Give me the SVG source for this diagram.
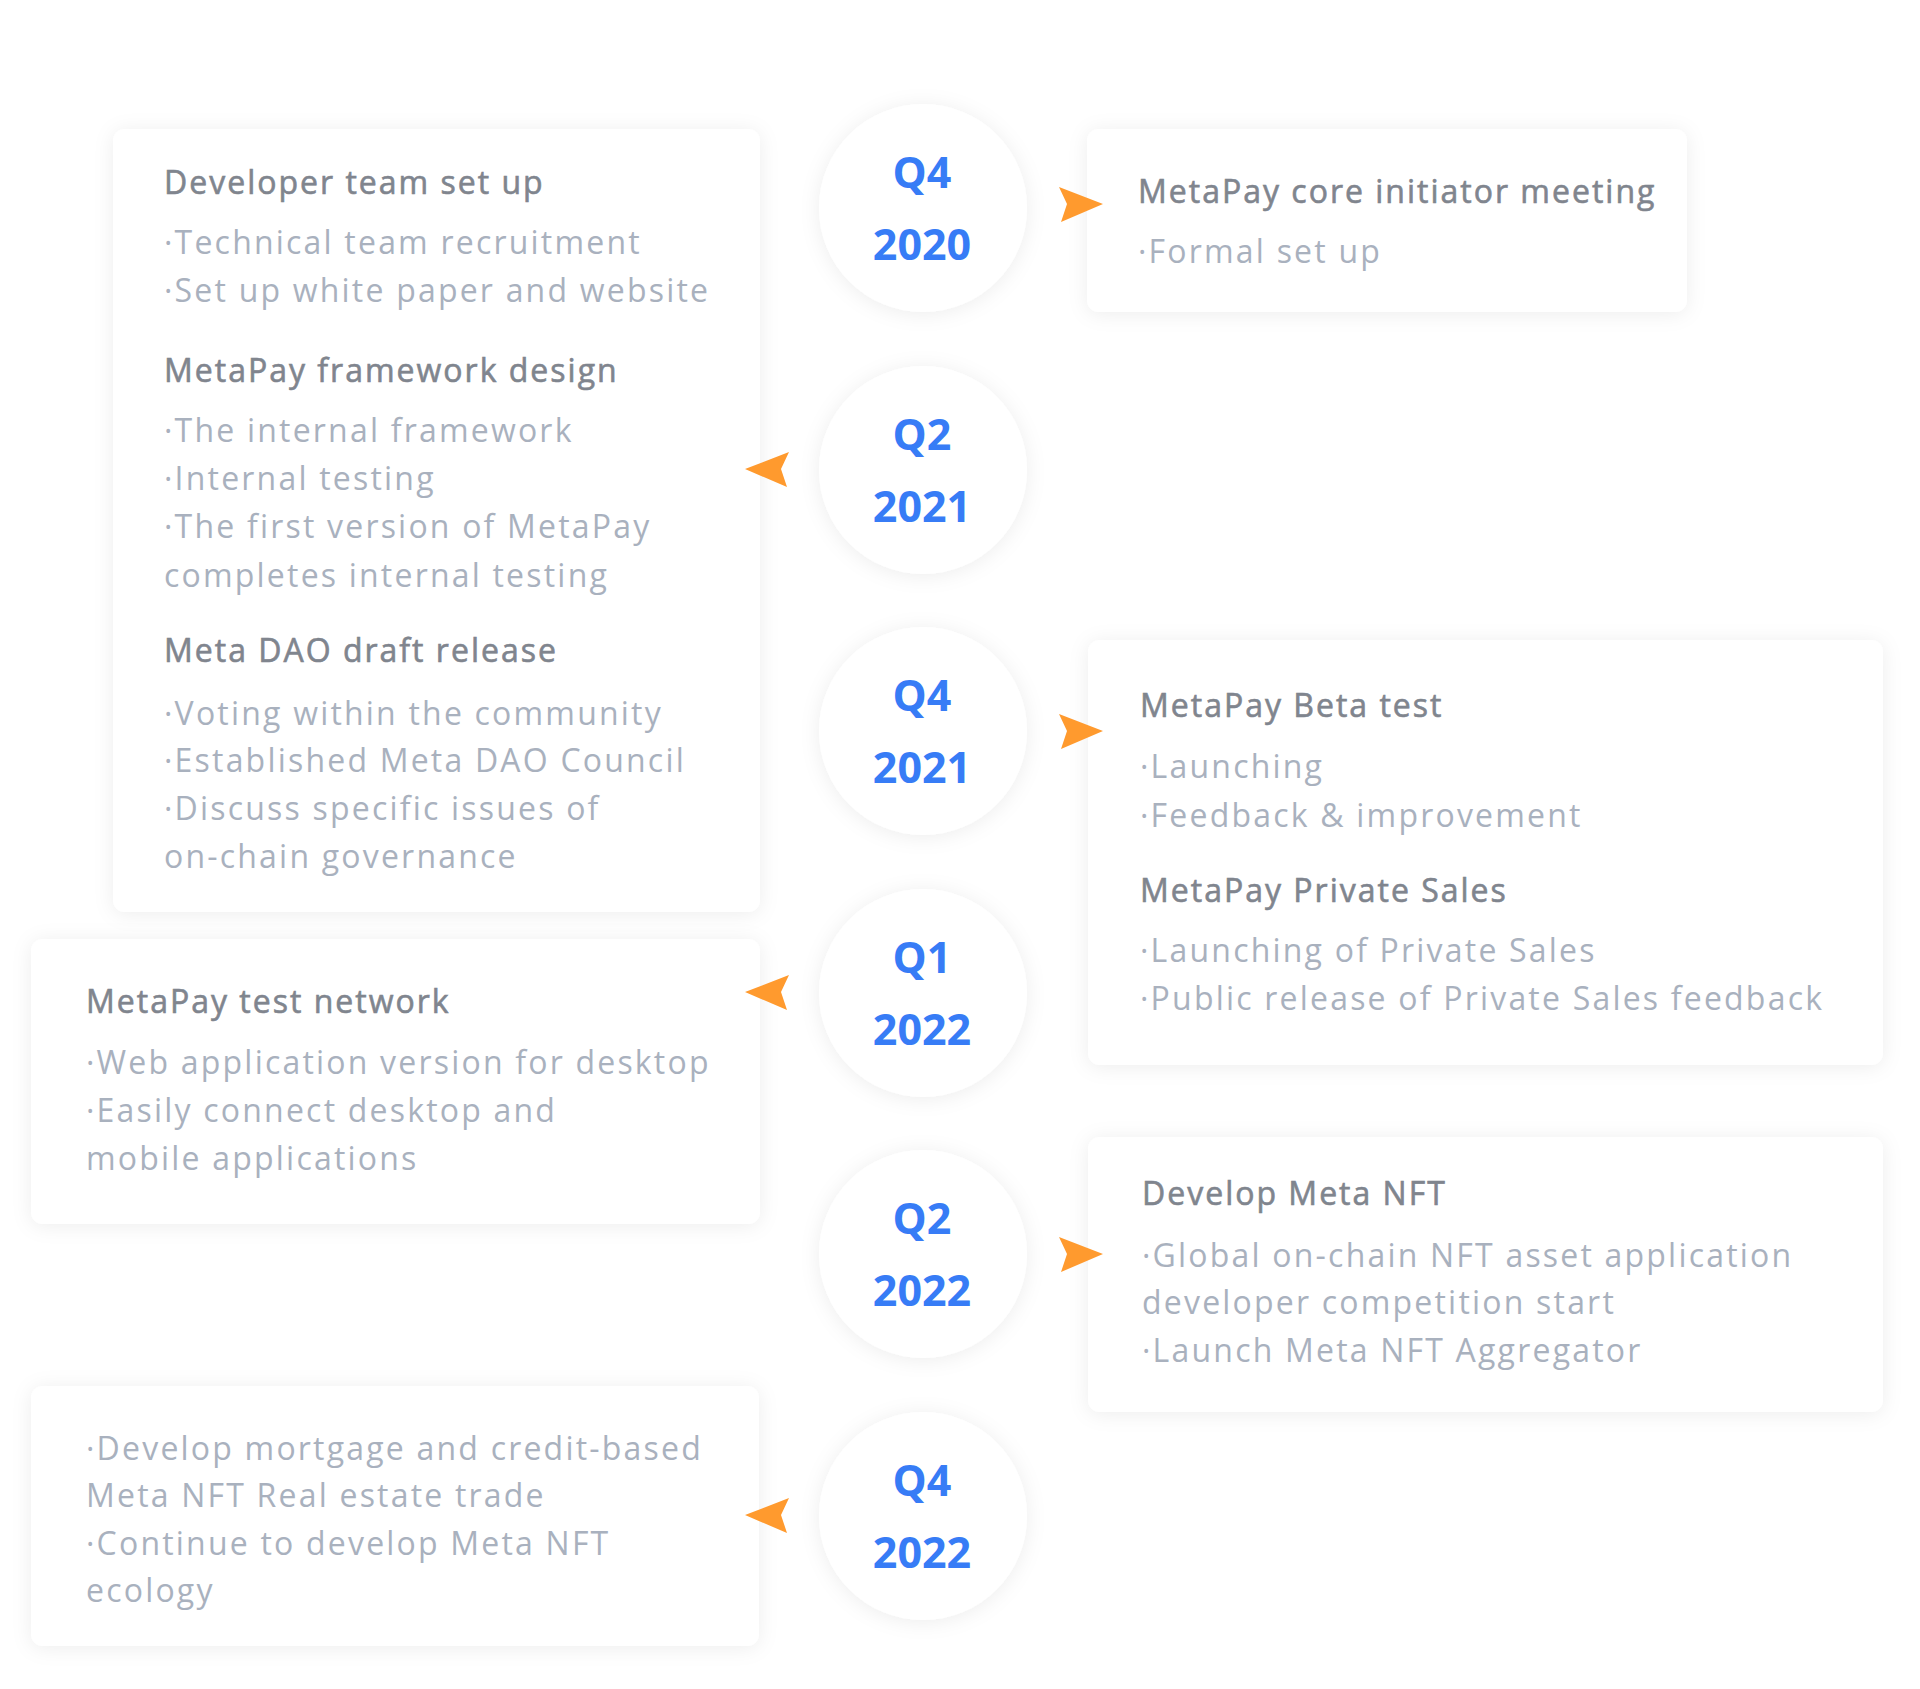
<svg xmlns="http://www.w3.org/2000/svg" width="1920" height="1689" viewBox="0 0 1920 1689">
<style>
.card{fill:#ffffff;filter:url(#sh)}
.h{font-family:"Open Sans","Noto Sans",sans-serif;font-size:32px;font-weight:400;letter-spacing:2px;fill:#80858e;stroke:#80858e;stroke-width:0.6px}
.b{font-family:"Open Sans","Noto Sans",sans-serif;font-size:32px;font-weight:400;letter-spacing:2.2px;fill:#a9b1be}
.q{font-family:"Open Sans","Noto Sans",sans-serif;font-size:43px;font-weight:700;fill:#377cf6;text-anchor:middle}
.arr{fill:#ff9a2e}
</style>
<defs>
<filter id="sh" x="-20%" y="-20%" width="140%" height="140%">
<feDropShadow dx="0" dy="2" stdDeviation="10" flood-color="#000000" flood-opacity="0.07"/>
</filter>
</defs>
<rect width="1920" height="1689" fill="#ffffff"/>

<g id="card-left-1">
<rect class="card" x="113" y="129" width="647" height="783" rx="12"/>
<text class="h" x="164" y="194">Developer team set up</text>
<text class="b" x="164" y="254">·Technical team recruitment</text>
<text class="b" x="164" y="302">·Set up white paper and website</text>
<text class="h" x="164" y="382">MetaPay framework design</text>
<text class="b" x="164" y="442">·The internal framework</text>
<text class="b" x="164" y="490">·Internal testing</text>
<text class="b" x="164" y="538">·The first version of MetaPay</text>
<text class="b" x="164" y="587">completes internal testing</text>
<text class="h" x="164" y="662">Meta DAO draft release</text>
<text class="b" x="164" y="725">·Voting within the community</text>
<text class="b" x="164" y="772">·Established Meta DAO Council</text>
<text class="b" x="164" y="820">·Discuss specific issues of</text>
<text class="b" x="164" y="868">on-chain governance</text>
</g>

<g id="card-right-1">
<rect class="card" x="1087" y="129" width="600" height="183" rx="12"/>
<text class="h" x="1138" y="203">MetaPay core initiator meeting</text>
<text class="b" x="1138" y="263">·Formal set up</text>
</g>

<g id="card-right-2">
<rect class="card" x="1088" y="640" width="795" height="425" rx="12"/>
<text class="h" x="1140" y="717">MetaPay Beta test</text>
<text class="b" x="1140" y="778">·Launching</text>
<text class="b" x="1140" y="827">·Feedback &amp; improvement</text>
<text class="h" x="1140" y="902">MetaPay Private Sales</text>
<text class="b" x="1140" y="962">·Launching of Private Sales</text>
<text class="b" x="1140" y="1010">·Public release of Private Sales feedback</text>
</g>

<g id="card-left-2">
<rect class="card" x="31" y="939" width="729" height="285" rx="12"/>
<text class="h" x="86" y="1013">MetaPay test network</text>
<text class="b" x="86" y="1074">·Web application version for desktop</text>
<text class="b" x="86" y="1122">·Easily connect desktop and</text>
<text class="b" x="86" y="1170">mobile applications</text>
</g>

<g id="card-right-3">
<rect class="card" x="1088" y="1137" width="795" height="275" rx="12"/>
<text class="h" x="1142" y="1205">Develop Meta NFT</text>
<text class="b" x="1142" y="1267">·Global on-chain NFT asset application</text>
<text class="b" x="1142" y="1314">developer competition start</text>
<text class="b" x="1142" y="1362">·Launch Meta NFT Aggregator</text>
</g>

<g id="card-left-3">
<rect class="card" x="31" y="1386" width="728" height="260" rx="12"/>
<text class="b" x="86" y="1460">·Develop mortgage and credit-based</text>
<text class="b" x="86" y="1507">Meta NFT Real estate trade</text>
<text class="b" x="86" y="1555">·Continue to develop Meta NFT</text>
<text class="b" x="86" y="1602">ecology</text>
</g>

<g id="q4-2020">
<circle class="card" cx="923" cy="208" r="104"/>
<text class="q" x="922" y="188">Q4</text>
<text class="q" x="922" y="260">2020</text>
</g>
<g id="q2-2021">
<circle class="card" cx="923" cy="470" r="104"/>
<text class="q" x="922" y="450">Q2</text>
<text class="q" x="922" y="522">2021</text>
</g>
<g id="q4-2021">
<circle class="card" cx="923" cy="731" r="104"/>
<text class="q" x="922" y="711">Q4</text>
<text class="q" x="922" y="783">2021</text>
</g>
<g id="q1-2022">
<circle class="card" cx="923" cy="993" r="104"/>
<text class="q" x="922" y="973">Q1</text>
<text class="q" x="922" y="1045">2022</text>
</g>
<g id="q2-2022">
<circle class="card" cx="923" cy="1254" r="104"/>
<text class="q" x="922" y="1234">Q2</text>
<text class="q" x="922" y="1306">2022</text>
</g>
<g id="q4-2022">
<circle class="card" cx="923" cy="1516" r="104"/>
<text class="q" x="922" y="1496">Q4</text>
<text class="q" x="922" y="1568">2022</text>
</g>

<g id="connectors">
<polygon class="arr" points="1059,187 1103,204 1061,222 1067,204"/>
<polygon class="arr" points="789,452 745,469 787,487 781,469"/>
<polygon class="arr" points="1059,714 1103,731 1061,749 1067,731"/>
<polygon class="arr" points="789,975 745,992 787,1010 781,992"/>
<polygon class="arr" points="1059,1237 1103,1254 1061,1272 1067,1254"/>
<polygon class="arr" points="789,1498 745,1515 787,1533 781,1515"/>
</g>
</svg>
